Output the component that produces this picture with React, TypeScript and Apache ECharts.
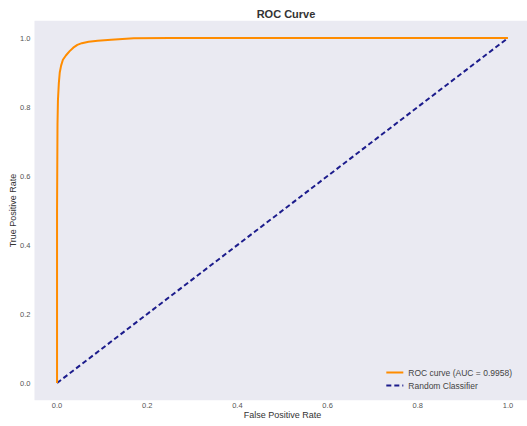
import React, { useEffect, useRef } from "react";
import * as echarts from "echarts";

const rocFpr = [0, 0, 0.001, 0.002, 0.004, 0.006, 0.009, 0.013, 0.02, 0.028, 0.036, 0.045, 0.055, 0.07, 0.09, 0.12, 0.17, 0.25, 0.5, 1.0];
const rocTpr = [0, 0.5, 0.75, 0.82, 0.87, 0.9, 0.92, 0.937, 0.95, 0.962, 0.972, 0.98, 0.985, 0.989, 0.992, 0.995, 0.999, 1.0, 1.0, 1.0];
const diagX = [0, 1];
const diagY = [0, 1];
const tickValues = [0, 0.2, 0.4, 0.6, 0.8, 1.0];
const rocName = "ROC curve (AUC = 0.9958)";
const diagName = "Random Classifier";

const FONT = "Liberation Sans, Arial, sans-serif";

export default function App() {
  const ref = useRef<HTMLDivElement>(null);
  useEffect(() => {
    if (!ref.current) return;
    const chart = echarts.init(ref.current, null, { renderer: "svg" });
    const axisCommon = {
      type: "value" as const,
      min: -0.05,
      max: 1.05,
      axisLine: { show: false },
      axisTick: { show: false, customValues: tickValues },
      splitLine: { show: false },
      nameLocation: "middle" as const,
      nameMoveOverlap: false,
      nameTextStyle: { fontFamily: FONT, fontSize: 9, color: "#333" },
    };
    chart.setOption({
      animation: false,
      backgroundColor: "#ffffff",
      title: {
        text: "ROC Curve",
        left: 281,
        textAlign: "center",
        top: 3,
        textStyle: { fontFamily: FONT, fontSize: 11, fontWeight: "bold", color: "#333" },
      },
      grid: {
        left: 34.5,
        top: 20.75,
        width: 496,
        height: 379.5,
        show: true,
        backgroundColor: "#eaeaf2",
        borderWidth: 0,
        containLabel: false,
        outerBoundsMode: "none",
      },
      legend: {
        orient: "vertical",
        right: 10,
        bottom: 31,
        itemWidth: 17,
        itemHeight: 8,
        itemGap: 4,
        itemStyle: { opacity: 0 },
        textStyle: { fontFamily: FONT, fontSize: 8.5, color: "#444" },
        data: [rocName, diagName],
      },
      xAxis: {
        ...axisCommon,
        name: "False Positive Rate",
        nameGap: 10,
        axisLabel: {
          customValues: tickValues,
          formatter: (v: number) => v.toFixed(1),
          fontFamily: FONT,
          fontSize: 7.5,
          color: "#555",
          margin: 1,
        },
      },
      yAxis: {
        ...axisCommon,
        name: "True Positive Rate",
        nameGap: 17,
        axisLabel: {
          customValues: tickValues,
          formatter: (v: number) => v.toFixed(1),
          fontFamily: FONT,
          fontSize: 7.5,
          color: "#555",
          margin: 4,
        },
      },
      series: [
        {
          name: rocName,
          type: "line",
          symbol: "none",
          data: rocFpr.map((x, i) => [x, rocTpr[i]]),
          lineStyle: { color: "#ff8c00", width: 2 },
          itemStyle: { color: "#ff8c00" },
          z: 3,
        },
        {
          name: diagName,
          type: "line",
          symbol: "none",
          data: diagX.map((x, i) => [x, diagY[i]]),
          lineStyle: { color: "#1c1c8c", width: 2, type: [5, 3] },
          itemStyle: { color: "#1c1c8c" },
          z: 2,
        },
      ],
    });
    return () => chart.dispose();
  }, []);
  return <div ref={ref} style={{ width: 527, height: 426, position: "absolute", left: 0, top: 0 }} />;
}
